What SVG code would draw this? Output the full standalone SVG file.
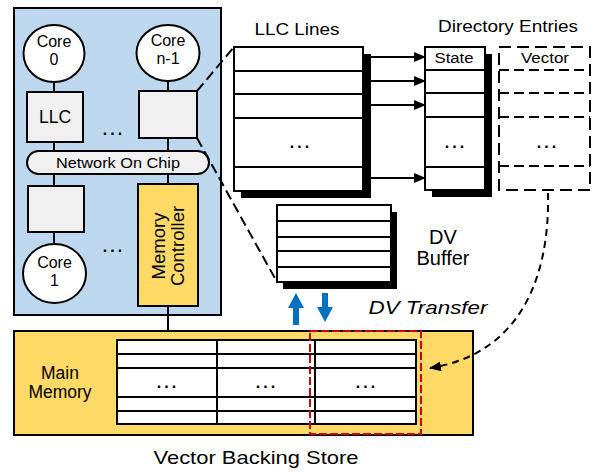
<svg xmlns="http://www.w3.org/2000/svg" width="601" height="472" viewBox="0 0 601 472">
<defs>
<style>
text{font-family:"Liberation Sans",Arial,sans-serif;fill:#000}
.st{stroke:#000;stroke-width:2}
.ln{stroke:#000;stroke-width:2;fill:none}
.dash{stroke:#000;stroke-width:2;fill:none;stroke-dasharray:10,5}
.core{fill:#fff;stroke:#000;stroke-width:2}
.grey{fill:#f0f0f0;stroke:#000;stroke-width:2}
.yel{fill:#ffd966;stroke:#000;stroke-width:2}
.wht{fill:#fff;stroke:#000;stroke-width:2}
.shd{fill:#000}
.c{text-anchor:middle}
.ct{font-size:16px}
.dots{font-size:16px;font-weight:bold;letter-spacing:3px}
</style>
<marker id="ah" markerWidth="12" markerHeight="10" refX="11" refY="5" orient="auto" markerUnits="userSpaceOnUse">
<path d="M0,0 L12,5 L0,10 Z" fill="#000"/>
</marker>
</defs>
<rect width="601" height="472" fill="#fff"/>

<g id="chip">
<rect x="14" y="8" width="207" height="307" fill="#bdd7ee" stroke="#000" stroke-width="2"/>
</g>

<g id="core0">
<ellipse class="core" cx="54" cy="53.5" rx="30.5" ry="28.5"/>
<text class="c ct" x="54" y="47">Core</text>
<text class="c ct" x="54" y="65">0</text>
</g>
<g id="coreN1">
<ellipse class="core" cx="168" cy="53" rx="31.5" ry="28"/>
<text class="c ct" x="168" y="46">Core</text>
<text class="c ct" x="168" y="64">n-1</text>
</g>
<g id="llc0">
<rect class="grey" x="27" y="92" width="56" height="50"/>
<text class="c" x="55" y="123" font-size="17.5">LLC</text>
</g>
<g id="llcN1">
<rect class="grey" x="139" y="91" width="58" height="47"/>
</g>
<g id="dots1"><text class="c dots" x="114" y="135">...</text></g>
<g id="noc">
<rect class="grey" x="27" y="151" width="182" height="23" rx="11.5"/>
<text class="c" x="118" y="167.5" font-size="15.5" textLength="124" lengthAdjust="spacingAndGlyphs">Network On Chip</text>
</g>
<g id="llc1">
<rect class="grey" x="28" y="186" width="56" height="46"/>
</g>
<g id="core1">
<ellipse class="core" cx="54.5" cy="273.5" rx="31.5" ry="29.5"/>
<text class="c ct" x="54.5" y="268">Core</text>
<text class="c ct" x="54.5" y="286">1</text>
</g>
<g id="dots2"><text class="c dots" x="114" y="252">...</text></g>
<g id="memctrl">
<rect class="yel" x="138" y="184" width="60" height="122"/>
<g transform="rotate(-90,168,246)">
<text class="c" x="168" y="243" font-size="18.5">Memory</text>
<text class="c" x="168" y="262" font-size="18.5">Controller</text>
</g>
</g>

<g id="llcLines">
<text class="c" x="297" y="35" font-size="16" textLength="85" lengthAdjust="spacingAndGlyphs">LLC Lines</text>
<rect class="shd" x="241" y="54" width="130" height="144"/>
<rect class="wht" x="234" y="47" width="129" height="144"/>
<line class="st" x1="234" y1="71" x2="363" y2="71"/>
<line class="st" x1="234" y1="94" x2="363" y2="94"/>
<line class="st" x1="234" y1="118" x2="363" y2="118"/>
<line class="st" x1="234" y1="167" x2="363" y2="167"/>
<text class="c dots" x="301" y="148">...</text>
</g>

<g id="dirEntries">
<text class="c" x="508" y="32" font-size="16" textLength="140" lengthAdjust="spacingAndGlyphs">Directory Entries</text>
</g>
<g id="state">
<rect class="shd" x="432" y="54" width="60" height="143"/>
<rect class="wht" x="425" y="47" width="60" height="143"/>
<line class="st" x1="425" y1="70" x2="485" y2="70"/>
<line class="st" x1="425" y1="93" x2="485" y2="93"/>
<line class="st" x1="425" y1="117" x2="485" y2="117"/>
<line class="st" x1="425" y1="167" x2="485" y2="167"/>
<text class="c" x="454" y="63" font-size="14" textLength="39" lengthAdjust="spacingAndGlyphs">State</text>
<text class="c dots" x="456" y="148">...</text>
</g>
<g id="vector">
<rect x="499" y="47" width="91" height="143" fill="#fff" stroke="#000" stroke-width="2" stroke-dasharray="12,6"/>
<line class="dash" x1="499" y1="70" x2="590" y2="70" stroke-dasharray="12,6"/>
<line class="dash" x1="499" y1="93" x2="590" y2="93" stroke-dasharray="12,6"/>
<line class="dash" x1="499" y1="117" x2="590" y2="117" stroke-dasharray="12,6"/>
<line class="dash" x1="499" y1="166" x2="590" y2="166" stroke-dasharray="12,6"/>
<text class="c" x="545" y="63" font-size="14" textLength="48" lengthAdjust="spacingAndGlyphs">Vector</text>
<text class="c dots" x="548" y="148">...</text>
</g>

<g id="dvBuffer">
<rect class="shd" x="283" y="212" width="114" height="77"/>
<rect class="wht" x="277" y="205" width="114" height="77"/>
<line class="st" x1="277" y1="221" x2="391" y2="221"/>
<line class="st" x1="277" y1="237" x2="391" y2="237"/>
<line class="st" x1="277" y1="251" x2="391" y2="251"/>
<line class="st" x1="277" y1="267" x2="391" y2="267"/>
<text class="c" x="443" y="244" font-size="20">DV</text>
<text class="c" x="443" y="265" font-size="20">Buffer</text>
</g>
<g id="dvTransfer">
<text class="c" x="428" y="314" font-size="19" font-style="italic" textLength="119" lengthAdjust="spacingAndGlyphs">DV Transfer</text>
</g>

<g id="mainMemory">
<rect class="yel" x="14" y="331" width="459" height="104"/>
<text class="c" x="60" y="379" font-size="17.5">Main</text>
<text class="c" x="60" y="398" font-size="17.5">Memory</text>
<rect class="wht" x="117" y="340" width="299" height="84"/>
<line class="st" x1="117" y1="354" x2="416" y2="354"/>
<line class="st" x1="117" y1="368" x2="416" y2="368"/>
<line class="st" x1="117" y1="397" x2="416" y2="397"/>
<line class="st" x1="117" y1="411" x2="416" y2="411"/>
<line class="st" x1="217" y1="340" x2="217" y2="424"/>
<line class="st" x1="315" y1="340" x2="315" y2="424"/>
<text class="c dots" x="168" y="388">...</text>
<text class="c dots" x="267" y="388">...</text>
<text class="c dots" x="367" y="388">...</text>
<rect x="310" y="331" width="111" height="103" fill="none" stroke="#d00000" stroke-width="2" stroke-dasharray="8,3"/>
</g>
<g id="vbsLabel">
<text class="c" x="256" y="464" font-size="19" textLength="205" lengthAdjust="spacingAndGlyphs">Vector Backing Store</text>
</g>

<g id="connectors">
<line class="ln" x1="54" y1="82" x2="54" y2="92"/>
<line class="ln" x1="54" y1="142" x2="54" y2="151"/>
<line class="ln" x1="54" y1="174" x2="54" y2="186"/>
<line class="ln" x1="54" y1="232" x2="54" y2="244"/>
<line class="ln" x1="168" y1="81" x2="168" y2="91"/>
<line class="ln" x1="168" y1="138" x2="168" y2="151"/>
<line class="ln" x1="168" y1="174" x2="168" y2="184"/>
<line class="ln" x1="168" y1="306" x2="168" y2="331"/>
<line class="dash" x1="197" y1="91" x2="234" y2="47"/>
<line class="dash" x1="197" y1="138" x2="277" y2="282"/>
<line class="ln" x1="365" y1="57" x2="425" y2="57" marker-end="url(#ah)"/>
<line class="ln" x1="365" y1="81" x2="425" y2="81" marker-end="url(#ah)"/>
<line class="ln" x1="365" y1="105" x2="425" y2="105" marker-end="url(#ah)"/>
<line class="ln" x1="365" y1="178" x2="425" y2="178" marker-end="url(#ah)"/>
<path d="M548,193 C550,285 515,355 430,368" fill="none" stroke="#000" stroke-width="2" stroke-dasharray="7,5" marker-end="url(#ah)"/>
<path d="M296,293 L304,308 L299,308 L299,325 L293,325 L293,308 L288,308 Z" fill="#0070c0"/>
<path d="M325,322 L333,307 L328,307 L328,293 L322,293 L322,307 L317,307 Z" fill="#0070c0"/>
</g>
</svg>
